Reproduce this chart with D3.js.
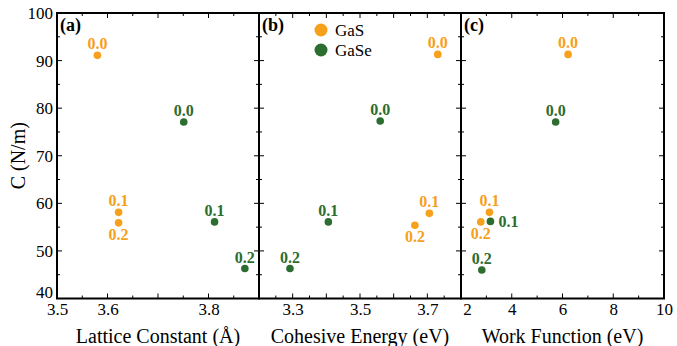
<!DOCTYPE html>
<html>
<head>
<meta charset="utf-8">
<script src="https://cdn.jsdelivr.net/npm/d3@7"></script>
<style>
  body { margin: 0; background: #fff; }
  svg, svg text { font-family: "Liberation Serif", "Times New Roman", serif; }
</style>
</head>
<body>
<div id="chart"></div>
<script>
// series / labels
const series = ["GaS", "GaSe"]
const strain = ["0.0", "0.1", "0.2"]

// panel (a) lattice constant (Å)
const latticeGaS = [3.58, 3.622, 3.622]
const latticeGaSe = [3.751, 3.812, 3.872]
const cLatticeGaS = [91.1, 58.1, 55.9]
const cLatticeGaSe = [77.1, 56.1, 46.3]

// panel (b) cohesive energy (eV)
const cohesiveGaS = [3.731, 3.706, 3.663]
const cohesiveGaSe = [3.560, 3.406, 3.292]
const cCohesiveGaS = [91.3, 57.9, 55.4]
const cCohesiveGaSe = [77.3, 56.1, 46.3]

// panel (c) work function (eV)
const workGaS = [6.22, 3.12, 2.78]
const workGaSe = [5.73, 3.16, 2.82]
const cWorkGaS = [91.3, 58.1, 56.1]
const cWorkGaSe = [77.1, 56.2, 46.0]

// axis ticks
const yTicks = [40, 50, 60, 70, 80, 90, 100]
const latticeTicks = [3.5, 3.6, 3.8]
const cohesiveTicks = [3.3, 3.5, 3.7]
const workTicks = [2, 4, 6, 8, 10]

const width = 677, height = 346
const plotTop = 13, plotBottom = 298.5
const colors = { GaS: "#f6a01c", GaSe: "#2c6d30" }

const svg = d3.select("#chart").append("svg")
  .attr("width", width)
  .attr("height", height)

const y = d3.scaleLinear().domain([40, 100]).range([plotBottom, plotTop])

// label placement: [dx, dy, anchor] per point
const above = [0, -6, "middle"], below = [0, 17, "middle"], right = [8, 6, "start"]

const panels = [
  { tag: "(a)", x0: 57, x1: 259, domain: [3.5, 3.9], minor: 0.05, major: 0.1, labels: latticeTicks,
    title: "Lattice Constant (Å)",
    pts: { GaS: [latticeGaS, cLatticeGaS], GaSe: [latticeGaSe, cLatticeGaSe] },
    place: { GaS: [above, above, below], GaSe: [above, above, above] } },
  { tag: "(b)", x0: 259, x1: 461, domain: [3.2, 3.8], minor: 0.05, major: 0.2, labels: cohesiveTicks,
    title: "Cohesive Energy (eV)",
    pts: { GaS: [cohesiveGaS, cCohesiveGaS], GaSe: [cohesiveGaSe, cCohesiveGaSe] },
    place: { GaS: [above, above, below], GaSe: [above, above, above] } },
  { tag: "(c)", x0: 461, x1: 664, domain: [2, 10], minor: 1, major: 2, labels: workTicks,
    title: "Work Function (eV)",
    pts: { GaS: [workGaS, cWorkGaS], GaSe: [workGaSe, cWorkGaSe] },
    place: { GaS: [above, above, below], GaSe: [above, right, above] } }
]

const range = (a, b, s) => d3.range(Math.round((b - a) / s) + 1).map(i => +(a + i * s).toFixed(4))

panels.forEach((p, pi) => {
  const x = d3.scaleLinear().domain(p.domain).range([p.x0, p.x1])
  const g = svg.append("g")

  const allX = range(p.domain[0], p.domain[1], p.minor)
  const isMajor = v => Math.abs(v / p.major - Math.round(v / p.major)) < 1e-6 || p.labels.includes(v)
  const allY = range(40, 100, 5)

  const tickGroup = g.append("g").attr("stroke", "#000").attr("stroke-width", 1)
  // bottom / top ticks (inward)
  tickGroup.append("g").selectAll("line").data(allX).join("line")
    .attr("x1", d => x(d)).attr("x2", d => x(d))
    .attr("y1", plotBottom).attr("y2", d => plotBottom - (isMajor(d) ? 5 : 3))
  tickGroup.append("g").selectAll("line").data(allX).join("line")
    .attr("x1", d => x(d)).attr("x2", d => x(d))
    .attr("y1", plotTop).attr("y2", d => plotTop + (isMajor(d) ? 5 : 3))
  // left / right ticks (inward)
  tickGroup.append("g").selectAll("line").data(allY).join("line")
    .attr("y1", d => y(d)).attr("y2", d => y(d))
    .attr("x1", p.x0).attr("x2", d => p.x0 + (d % 10 === 0 ? 5 : 3))
  tickGroup.append("g").selectAll("line").data(allY).join("line")
    .attr("y1", d => y(d)).attr("y2", d => y(d))
    .attr("x1", p.x1).attr("x2", d => p.x1 - (d % 10 === 0 ? 5 : 3))

  // x tick labels
  g.append("g")
    .attr("transform", `translate(0,${plotBottom})`)
    .call(d3.axisBottom(x).tickValues(p.labels).tickSize(0).tickPadding(4)
      .tickFormat(d => pi === 2 ? d3.format("d")(d) : d3.format(".1f")(d)))
    .call(g => g.select(".domain").remove())
    .call(g => g.selectAll("text")
      .attr("font-size", 17).attr("font-family", "Liberation Serif").attr("fill", "#000")
      .attr("dx", d => (pi === 2 && d === 2) ? 6 : 0))

  // frame
  g.append("rect")
    .attr("x", p.x0).attr("y", plotTop)
    .attr("width", p.x1 - p.x0).attr("height", plotBottom - plotTop)
    .attr("fill", "none").attr("stroke", "#000").attr("stroke-width", 2)

  // panel tag
  g.append("text")
    .attr("x", p.x0 + 3).attr("y", plotTop + 18)
    .attr("font-size", 18).attr("font-weight", "bold")
    .text(p.tag)

  // axis title
  g.append("text")
    .attr("x", (p.x0 + p.x1) / 2).attr("y", 343)
    .attr("text-anchor", "middle")
    .attr("font-size", 20)
    .text(p.title)

  // points and labels
  series.forEach(s => {
    const [xs, cs] = p.pts[s]
    const rows = xs.map((v, i) => ({ x: v, c: cs[i], label: strain[i], place: p.place[s][i] }))
    g.append("g").selectAll("circle").data(rows).join("circle")
      .attr("cx", d => x(d.x)).attr("cy", d => y(d.c))
      .attr("r", 3.8).attr("fill", colors[s])
    g.append("g").selectAll("text").data(rows).join("text")
      .attr("x", d => x(d.x) + d.place[0]).attr("y", d => y(d.c) + d.place[1])
      .attr("text-anchor", d => d.place[2])
      .attr("font-size", 16).attr("font-weight", "bold")
      .attr("fill", colors[s])
      .text(d => d.label)
  })
})

// y axis labels (left of panel a)
svg.append("g")
  .attr("transform", "translate(57,0)")
  .call(d3.axisLeft(y).tickValues(yTicks).tickSize(0).tickPadding(4))
  .call(g => g.select(".domain").remove())
  .call(g => g.selectAll("text")
    .attr("font-size", 17).attr("font-family", "Liberation Serif").attr("fill", "#000")
    .attr("dy", d => d === 40 ? "-0.05em" : "0.32em"))

svg.append("text")
  .attr("transform", `translate(25,${(plotTop + plotBottom) / 2}) rotate(-90)`)
  .attr("text-anchor", "middle")
  .attr("font-size", 20)
  .text("C (N/m)")

// legend
const legend = svg.append("g").attr("transform", "translate(321,30)")
legend.selectAll("circle").data(series).join("circle")
  .attr("cx", 0).attr("cy", (d, i) => i * 20)
  .attr("r", 6.5).attr("fill", d => colors[d])
legend.selectAll("text").data(series).join("text")
  .attr("x", 14).attr("y", (d, i) => i * 20 + 6)
  .attr("font-size", 17)
  .text(d => d)
</script>
</body>
</html>
